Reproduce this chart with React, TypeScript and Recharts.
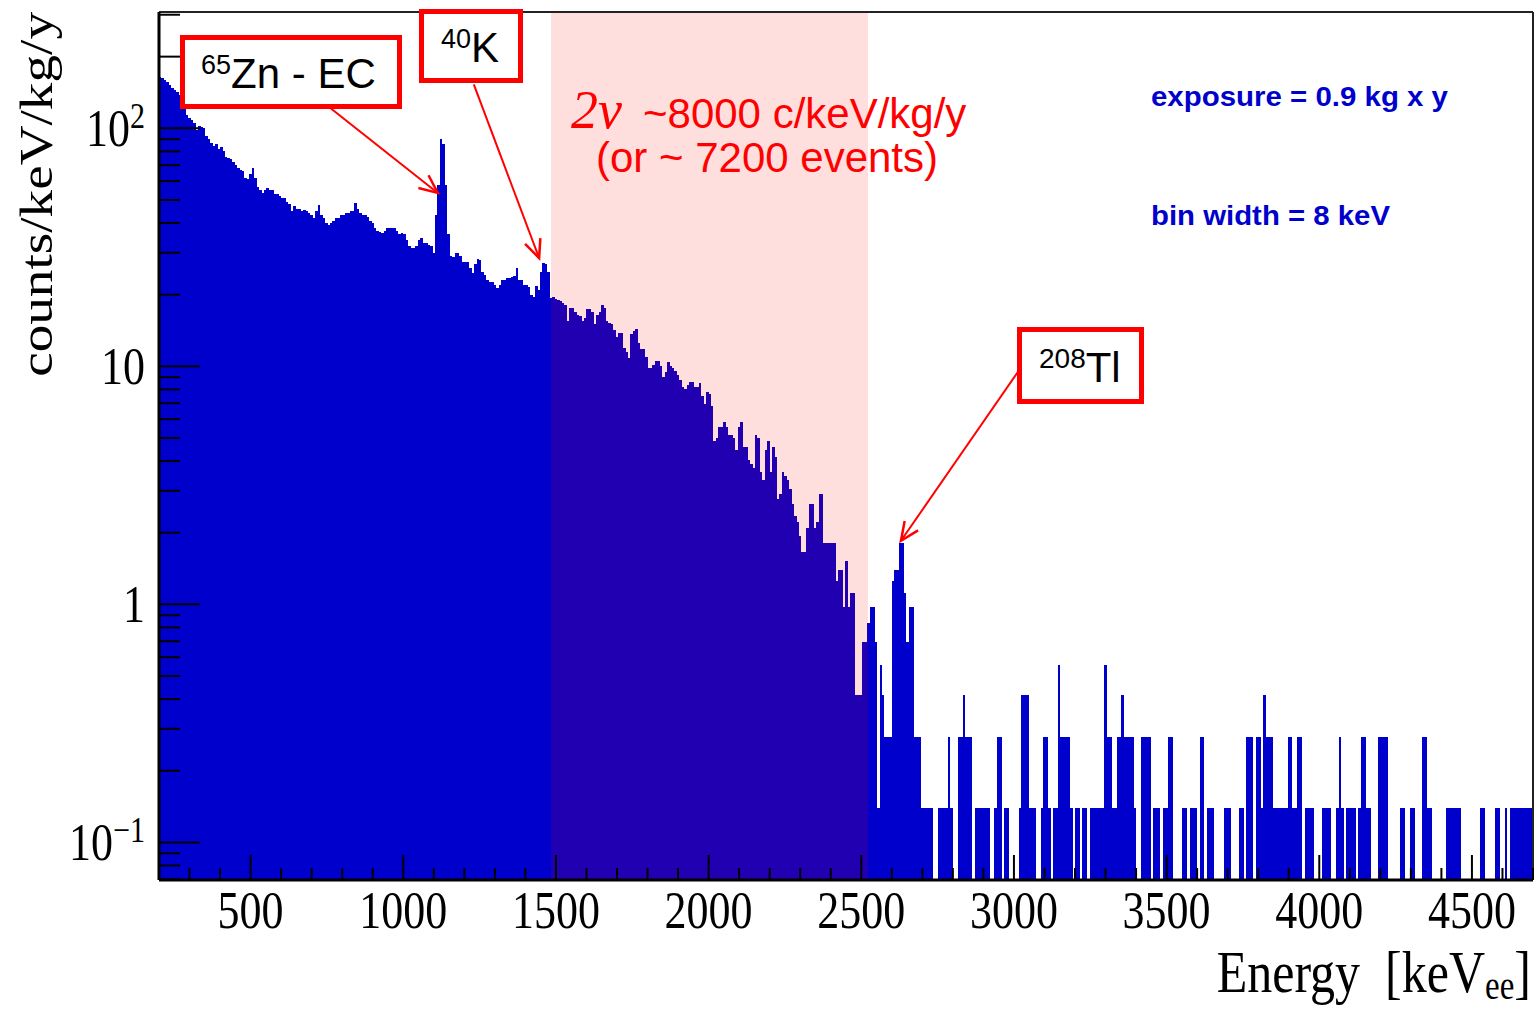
import React from 'react';
import { ComposedChart, Bar, XAxis, YAxis, ReferenceArea, ReferenceLine } from 'recharts';

const WIDTH = 1540;
const HEIGHT = 1010;
const BLUE = '#0000cc';
const RED = '#ff0000';
const SERIF = '"Liberation Serif", "Times New Roman", Times, serif';
const SANS = '"Liberation Sans", Arial, Helvetica, sans-serif';

// plot frame (px)
const PLOT_LEFT = 159;
const PLOT_TOP = 12;
const PLOT_RIGHT = 1533;
const PLOT_BOTTOM = 880;

// histogram settings
const E_MIN = 200;
const E_MAX = 4700;
const BIN_KEV = 8;
const EXPOSURE = 0.9; // kg x y
const Y_MIN = 0.0695;
const Y_MAX = 308;

// shaded 2nu window (keV)
const window2nu = [1484, 2522];

// counts per 8 keV bin
const counts200to1000 = [
  1188, 1166, 1150, 1123, 1094, 1066, 1044, 1022, 994, 922,
  864, 821, 792, 778, 756, 706, 734, 727, 720, 670,
  648, 626, 605, 619, 590, 598, 576, 547, 540, 533,
  518, 504, 490, 482, 475, 446, 439, 461, 490, 446,
  410, 396, 385, 396, 403, 396, 396, 382, 382, 374,
  367, 367, 353, 346, 324, 338, 331, 331, 324, 328,
  324, 317, 310, 302, 324, 343, 310, 302, 288, 283,
  288, 295, 302, 302, 310, 310, 317, 317, 324, 324,
  350, 331, 317, 310, 310, 305, 295, 288, 274, 266,
  263, 261, 266, 274, 274, 274, 274, 266, 259, 262,
];
const counts1000to1800 = [
  259, 245, 230, 226, 226, 230, 245, 249, 238, 238,
  233, 230, 216, 310, 418, 648, 620, 418, 259, 209,
  207, 216, 216, 209, 198, 198, 198, 187, 178, 194,
  204, 202, 180, 174, 166, 163, 163, 158, 154, 158,
  166, 166, 169, 169, 171, 173, 186, 166, 166, 158,
  158, 155, 144, 141, 156, 151, 180, 196, 194, 179,
  140, 141, 138, 137, 135, 133, 130, 112, 126, 126,
  122, 118, 117, 112, 115, 125, 125, 122, 108, 118,
  122, 130, 126, 112, 109, 108, 102, 96, 99, 99,
  86, 83, 78, 98, 101, 103, 90, 85, 85, 79,
];
const counts1800to2600 = [
  71, 71, 73, 76, 76, 72, 65, 68, 75, 72,
  71, 69, 66, 63, 59, 58, 60, 62, 62, 59,
  59, 61, 54, 50, 56, 55, 49, 35, 36, 40,
  40, 42, 40, 37, 37, 36, 32, 40, 42, 33,
  33, 29, 28, 27, 37, 36, 26, 24, 32, 35,
  26, 33, 30, 20, 21, 26, 25, 24, 22, 19,
  17, 16, 14, 12, 12, 15, 19, 19, 15, 16,
  21, 21, 13, 13, 13, 13, 13, 9, 10, 10,
  7, 11, 7, 8, 8, 3, 3, 3, 5, 5,
  6, 7, 7, 5, 1, 4, 3, 2, 2, 2,
];
const counts2600to3392 = [
  9, 10, 10, 13, 13, 8, 5, 7, 7, 2,
  2, 2, 1, 1, 1, 1, 1, 0, 0, 1,
  1, 1, 1, 2, 1, 0, 0, 2, 2, 3,
  2, 2, 2, 0, 1, 1, 1, 1, 1, 1,
  0, 0, 1, 2, 2, 0, 1, 1, 0,
  0, 0, 0, 1, 3, 3, 3, 1, 1, 1,
  0, 0, 1, 2, 2, 1, 0, 1, 1, 4,
  2, 2, 2, 2, 1, 0, 1, 1, 0, 1,
  1, 0, 1, 1, 1, 1, 1, 1, 4, 2,
  2, 1, 1, 2, 2, 3, 2, 2, 2, 2,
];
const counts3392to4192 = [
  1, 0, 0, 2, 2, 2, 2, 0, 1, 1,
  1, 0, 1, 1, 2, 2, 0, 0, 0, 0,
  1, 1, 0, 1, 1, 1, 0, 2, 2, 0,
  1, 1, 1, 0, 0, 0, 0, 1, 1, 1,
  0, 0, 0, 1, 1, 0, 2, 2, 2, 0,
  2, 2, 1, 3, 2, 2, 2, 1, 1, 1,
  1, 1, 1, 2, 2, 1, 1, 2, 2, 0,
  1, 1, 1, 1, 0, 0, 0, 1, 1, 1,
  1, 0, 0, 1, 2, 1, 0, 1, 1, 1,
  1, 0, 1, 2, 2, 1, 1, 0, 0, 0,
];
const counts4192to4704 = [
  2, 2, 2, 2, 0, 0, 0, 0, 0, 1,
  1, 0, 0, 1, 1, 0, 0, 0, 2, 2,
  1, 1, 0, 0, 0, 0, 0, 0, 1, 1,
  1, 1, 1, 1, 0, 0, 0, 0, 0, 0,
  0, 0, 1, 1, 0, 0, 0, 0, 1, 1,
  0, 0, 1, 0, 1, 1, 1, 1, 1, 1,
  1, 1, 1, 2,
];

// axis ticks
const xMajorTicks = [500, 1000, 1500, 2000, 2500, 3000, 3500, 4000, 4500];
const xMinorTicks = [300, 400, 600, 700, 800, 900, 1100, 1200, 1300, 1400, 1600, 1700, 1800, 1900,
  2100, 2200, 2300, 2400, 2600, 2700, 2800, 2900, 3100, 3200, 3300, 3400, 3600, 3700, 3800, 3900,
  4100, 4200, 4300, 4400, 4600, 4700];
const yDecades = [0.01, 0.1, 1, 10, 100];
const yMantissas = [1, 2, 3, 4, 5, 6, 7, 8, 9];

const allCounts = [
  ...counts200to1000, ...counts1000to1800, ...counts1800to2600,
  ...counts2600to3392, ...counts3392to4192, ...counts4192to4704,
];

const histData = allCounts.map((c, i) => ({
  energy: E_MIN + BIN_KEV * i + BIN_KEV / 2,
  rate: c > 0 ? c / (BIN_KEV * EXPOSURE) : null,
}));

const xTicks = [...xMajorTicks, ...xMinorTicks].sort((a, b) => a - b);
const yTicks: number[] = [];
yDecades.forEach(d => yMantissas.forEach(m => {
  const v = d * m;
  if (v >= Y_MIN && v <= Y_MAX) yTicks.push(v);
}));

// annotation arrows, in data coordinates (keV, counts/keV/kg/y)
const arrows = [
  { from: { x: 760, y: 122 }, to: { x: 1113, y: 53.5 } },   // 65Zn
  { from: { x: 1231, y: 153 }, to: { x: 1445, y: 28.5 } },  // 40K
  { from: { x: 3021, y: 9.8 }, to: { x: 2630, y: 1.85 } },  // 208Tl
];

const BIN_PX = ((PLOT_RIGHT - PLOT_LEFT) * BIN_KEV) / (E_MAX - E_MIN);

const HistBar = (p: any) => {
  if (p.payload?.rate == null || !Number.isFinite(p.y) || !Number.isFinite(p.height) || p.height <= 0) return <g />;
  return <rect x={p.x} y={p.y} width={BIN_PX} height={p.height} fill={BLUE} shapeRendering="crispEdges" />;
};

const ArrowShape = (p: any) => {
  const { x1, y1, x2, y2 } = p;
  if (![x1, y1, x2, y2].every(Number.isFinite)) return <g />;
  const ang = Math.atan2(y2 - y1, x2 - x1);
  const len = 20;
  const spread = 0.42;
  const a = [x2 - len * Math.cos(ang - spread), y2 - len * Math.sin(ang - spread)];
  const b = [x2 - len * Math.cos(ang + spread), y2 - len * Math.sin(ang + spread)];
  return (
    <g>
      <line x1={x1} y1={y1} x2={x2} y2={y2} stroke={RED} strokeWidth={2} />
      <polyline points={`${a[0]},${a[1]} ${x2},${y2} ${b[0]},${b[1]}`} fill="none" stroke={RED} strokeWidth={2.5} />
    </g>
  );
};

const XTick = (p: any) => {
  const { x, y, payload } = p;
  const v = payload.value;
  const major = v % 500 === 0;
  return (
    <g>
      <line x1={x} x2={x} y1={y} y2={y - (major ? 25 : 12)} stroke="#000" strokeWidth={2} />
      {major && (
        <text transform={`translate(${x},${y}) scale(1,1.2)`} y={40} textAnchor="middle"
          fontFamily={SERIF} fontSize={44} fill="#000">{v}</text>
      )}
    </g>
  );
};

const YTick = (p: any) => {
  const { x, y, payload } = p;
  const v = payload.value;
  const exp = Math.round(Math.log10(v));
  const major = Math.abs(v - Math.pow(10, exp)) < 1e-6 * v;
  let label: React.ReactNode = null;
  if (major) {
    label = (
      <text transform={`translate(${x - 14},${y}) scale(1,1.2)`} y={15} textAnchor="end"
        fontFamily={SERIF} fontSize={44} fill="#000">
        {exp === 0 ? '1' : '10'}
        {exp !== 0 && exp !== 1 && (
          <tspan fontSize={30} dy={-15}>{exp < 0 ? `\u2212${-exp}` : exp}</tspan>
        )}
      </text>
    );
  }
  return (
    <g>
      <line x1={x} x2={x + (major ? 41 : 21)} y1={y} y2={y} stroke="#000" strokeWidth={2} />
      {label}
    </g>
  );
};

const Annotations = () => (
  <svg width={WIDTH} height={HEIGHT} style={{ position: 'absolute', left: 0, top: 0, pointerEvents: 'none' }}>
    {/* axis titles */}
    <text transform={`translate(52,${PLOT_TOP}) rotate(-90) scale(1.2,1)`} textAnchor="end"
      fontFamily={SERIF} fontSize={46} fill="#000">counts/keV/kg/y</text>
    <text transform="translate(1531,992) scale(1,1.2)" textAnchor="end" fontFamily={SERIF}
      fontSize={50} fill="#000" style={{ whiteSpace: 'pre' }}>
      {'Energy  [keV'}
      <tspan fontSize={33} dy={6}>ee</tspan>
      <tspan dy={-6}>]</tspan>
    </text>

    {/* 65Zn box */}
    <rect x={182.5} y={37.5} width={217} height={69} fill="#fff" stroke={RED} strokeWidth={5} />
    <text x={201} y={88} fontFamily={SANS} fontSize={42} fill="#000">
      <tspan fontSize={27} dy={-14}>65</tspan>
      <tspan dy={14}>Zn - EC</tspan>
    </text>

    {/* 40K box */}
    <rect x={421.5} y={11.5} width={99} height={69} fill="#fff" stroke={RED} strokeWidth={5} />
    <text x={441} y={62} fontFamily={SANS} fontSize={42} fill="#000">
      <tspan fontSize={27} dy={-14}>40</tspan>
      <tspan dy={14}>K</tspan>
    </text>

    {/* 208Tl box */}
    <rect x={1019.5} y={329.5} width={122} height={72} fill="#fff" stroke={RED} strokeWidth={5} />
    <text x={1039} y={382} fontFamily={SANS} fontSize={42} fill="#000">
      <tspan fontSize={28} dy={-14}>208</tspan>
      <tspan dy={14}>Tl</tspan>
    </text>

    {/* 2nu window label */}
    <text x={571} y={128} fontFamily={SERIF} fontStyle="italic" fontSize={54} fill={RED}>2ν</text>
    <text x={643} y={128} fontFamily={SANS} fontSize={42} fill={RED}>~8000 c/keV/kg/y</text>
    <text x={596} y={172} fontFamily={SANS} fontSize={42} fill={RED}>(or ~ 7200 events)</text>

    {/* info */}
    <text x={1151} y={106} fontFamily={SANS} fontWeight="bold" fontSize={27} fill={BLUE}
      textLength={297} lengthAdjust="spacingAndGlyphs">exposure = 0.9 kg x y</text>
    <text x={1151} y={225} fontFamily={SANS} fontWeight="bold" fontSize={27} fill={BLUE}
      textLength={239} lengthAdjust="spacingAndGlyphs">bin width = 8 keV</text>
  </svg>
);

const App: React.FC = () => {
  return (
    <div style={{ position: 'absolute', left: 0, top: 0, width: WIDTH, height: HEIGHT, background: '#fff' }}>
      <ComposedChart
        width={WIDTH}
        height={HEIGHT}
        data={histData}
        margin={{ top: PLOT_TOP, right: WIDTH - PLOT_RIGHT, bottom: 0, left: 0 }}
        barCategoryGap={0}
        barGap={0}
      >
        <XAxis
          dataKey="energy"
          type="number"
          domain={[E_MIN, E_MAX]}
          allowDataOverflow
          ticks={xTicks}
          interval={0}
          height={HEIGHT - PLOT_BOTTOM}
          tickSize={0}
          tickMargin={0}
          tickLine={false}
          tick={<XTick />}
          axisLine={{ stroke: '#000', strokeWidth: 3 }}
        />
        <YAxis
          type="number"
          scale="log"
          domain={[Y_MIN, Y_MAX]}
          allowDataOverflow
          ticks={yTicks}
          interval={0}
          width={PLOT_LEFT}
          tickSize={0}
          tickMargin={0}
          tickLine={false}
          tick={<YTick />}
          axisLine={{ stroke: '#000', strokeWidth: 3 }}
        />
        <Bar dataKey="rate" fill={BLUE} shape={<HistBar />} isAnimationActive={false} />
        <ReferenceArea
          x1={window2nu[0]}
          x2={window2nu[1]}
          fill={RED}
          fillOpacity={0.13}
          stroke="none"
          ifOverflow="visible"
          {...({ zIndex: 350 } as any)}
        />
        <ReferenceLine y={Y_MAX} stroke="#222" strokeWidth={2} ifOverflow="visible" />
        <ReferenceLine x={E_MAX} stroke="#222" strokeWidth={2} ifOverflow="visible" />
        {arrows.map((a, i) => (
          <ReferenceLine key={i} segment={[a.from, a.to]} shape={<ArrowShape />} ifOverflow="visible" />
        ))}
      </ComposedChart>
      <Annotations />
    </div>
  );
};

export default App;
